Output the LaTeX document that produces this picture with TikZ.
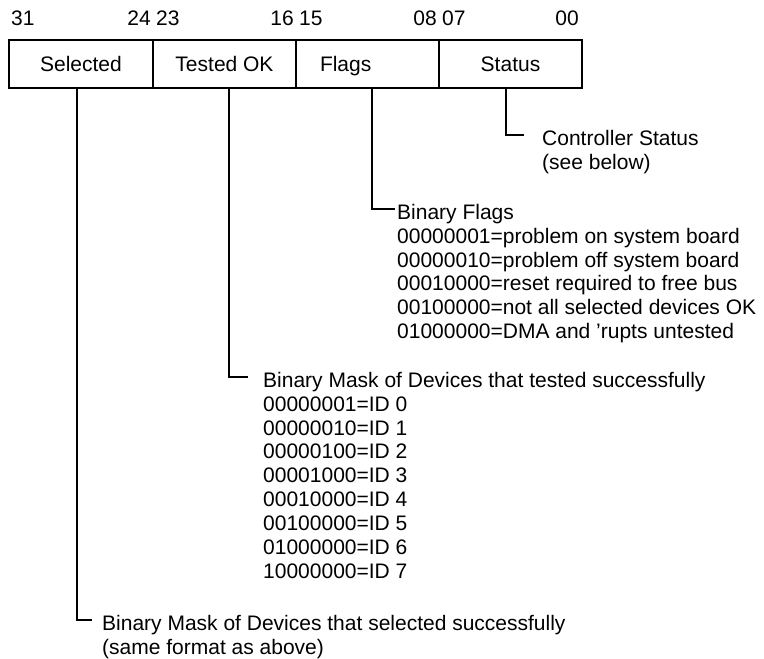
\documentclass[tikz,border=0pt]{standalone}
\usepackage{fontspec}
\setmainfont{Liberation Sans}
\newcommand{\fs}{\fontsize{21}{23.5}\selectfont}
\begin{document}
\begin{tikzpicture}[x=1pt,y=1pt,
  field/.style={draw, line width=1.4pt, minimum height=48pt, inner sep=0pt, font=\fs,
                text height=15pt, text depth=0pt},
  bitlbl/.style={inner sep=0pt, font=\fs, text height=15pt, text depth=0pt},
  ln/.style={anchor=north west, inner sep=0pt, font=\fs, text height=22pt, text depth=1.5pt},
  head/.style={anchor=west, inner sep=0pt, font=\fs, text height=22pt, text depth=1.5pt},
  conn/.style={line width=1.4pt}]
\useasboundingbox (0,0) rectangle (764,-659);
% bit numbers
\node[bitlbl, anchor=west] (b31) at (11,-18) {31};
\node[bitlbl, anchor=east] (b24) at (151,-18) {24};
\node[bitlbl, anchor=west] (b23) at (156,-18) {23};
\node[bitlbl, anchor=east] (b16) at (294,-18) {16};
\node[bitlbl, anchor=west] (b15) at (299,-18) {15};
\node[bitlbl, anchor=east] (b08) at (437,-18) {08};
\node[bitlbl, anchor=west] (b07) at (442,-18) {07};
\node[bitlbl, anchor=east] (b00) at (579,-18) {00};
% register fields
\node[field, minimum width=144pt] (sel) at (81,-64) {Selected};
\node[field, minimum width=143pt] (tok) at (224.5,-64) {Tested OK};
\node[field, minimum width=143pt, text width=95pt, inner xsep=24pt, align=left] (flg) at (367.5,-64) {Flags};
\node[field, minimum width=143pt] (sts) at (510.5,-64) {Status};
% Status description
\node[head] (cs) at (542,-135) {Controller Status};
\node[ln] (cs1) at (cs.south west) {(see below)};
% Flags description
\node[head] (bf) at (397,-209) {Binary Flags};
\node[ln] (bf1) at (bf.south west) {00000001=problem on system board};
\node[ln] (bf2) at (bf1.south west) {00000010=problem off system board};
\node[ln] (bf3) at (bf2.south west) {00010000=reset required to free bus};
\node[ln] (bf4) at (bf3.south west) {00100000=not all selected devices OK};
\node[ln] (bf5) at (bf4.south west) {01000000=DMA and 'rupts untested};
% Tested OK description
\node[head] (bm) at (263,-377) {Binary Mask of Devices that tested successfully};
\node[ln] (bm1) at (bm.south west) {00000001=ID 0};
\node[ln] (bm2) at (bm1.south west) {00000010=ID 1};
\node[ln] (bm3) at (bm2.south west) {00000100=ID 2};
\node[ln] (bm4) at (bm3.south west) {00001000=ID 3};
\node[ln] (bm5) at (bm4.south west) {00010000=ID 4};
\node[ln] (bm6) at (bm5.south west) {00100000=ID 5};
\node[ln] (bm7) at (bm6.south west) {01000000=ID 6};
\node[ln] (bm8) at (bm7.south west) {10000000=ID 7};
% Selected description
\node[head] (bs) at (102,-620) {Binary Mask of Devices that selected successfully};
\node[ln] (bs1) at (bs.south west) {(same format as above)};
% connectors
\draw[conn, shorten >=18pt] ([xshift=-4.5pt]sts.south) |- (cs.west);
\draw[conn, shorten >=2pt] ([xshift=4.5pt]flg.south) |- (bf.west);
\draw[conn, shorten >=15pt] ([xshift=4.5pt]tok.south) |- (bm.west);
\draw[conn, shorten >=10pt] ([xshift=-4pt]sel.south) |- (bs.west);
\end{tikzpicture}
\end{document}
